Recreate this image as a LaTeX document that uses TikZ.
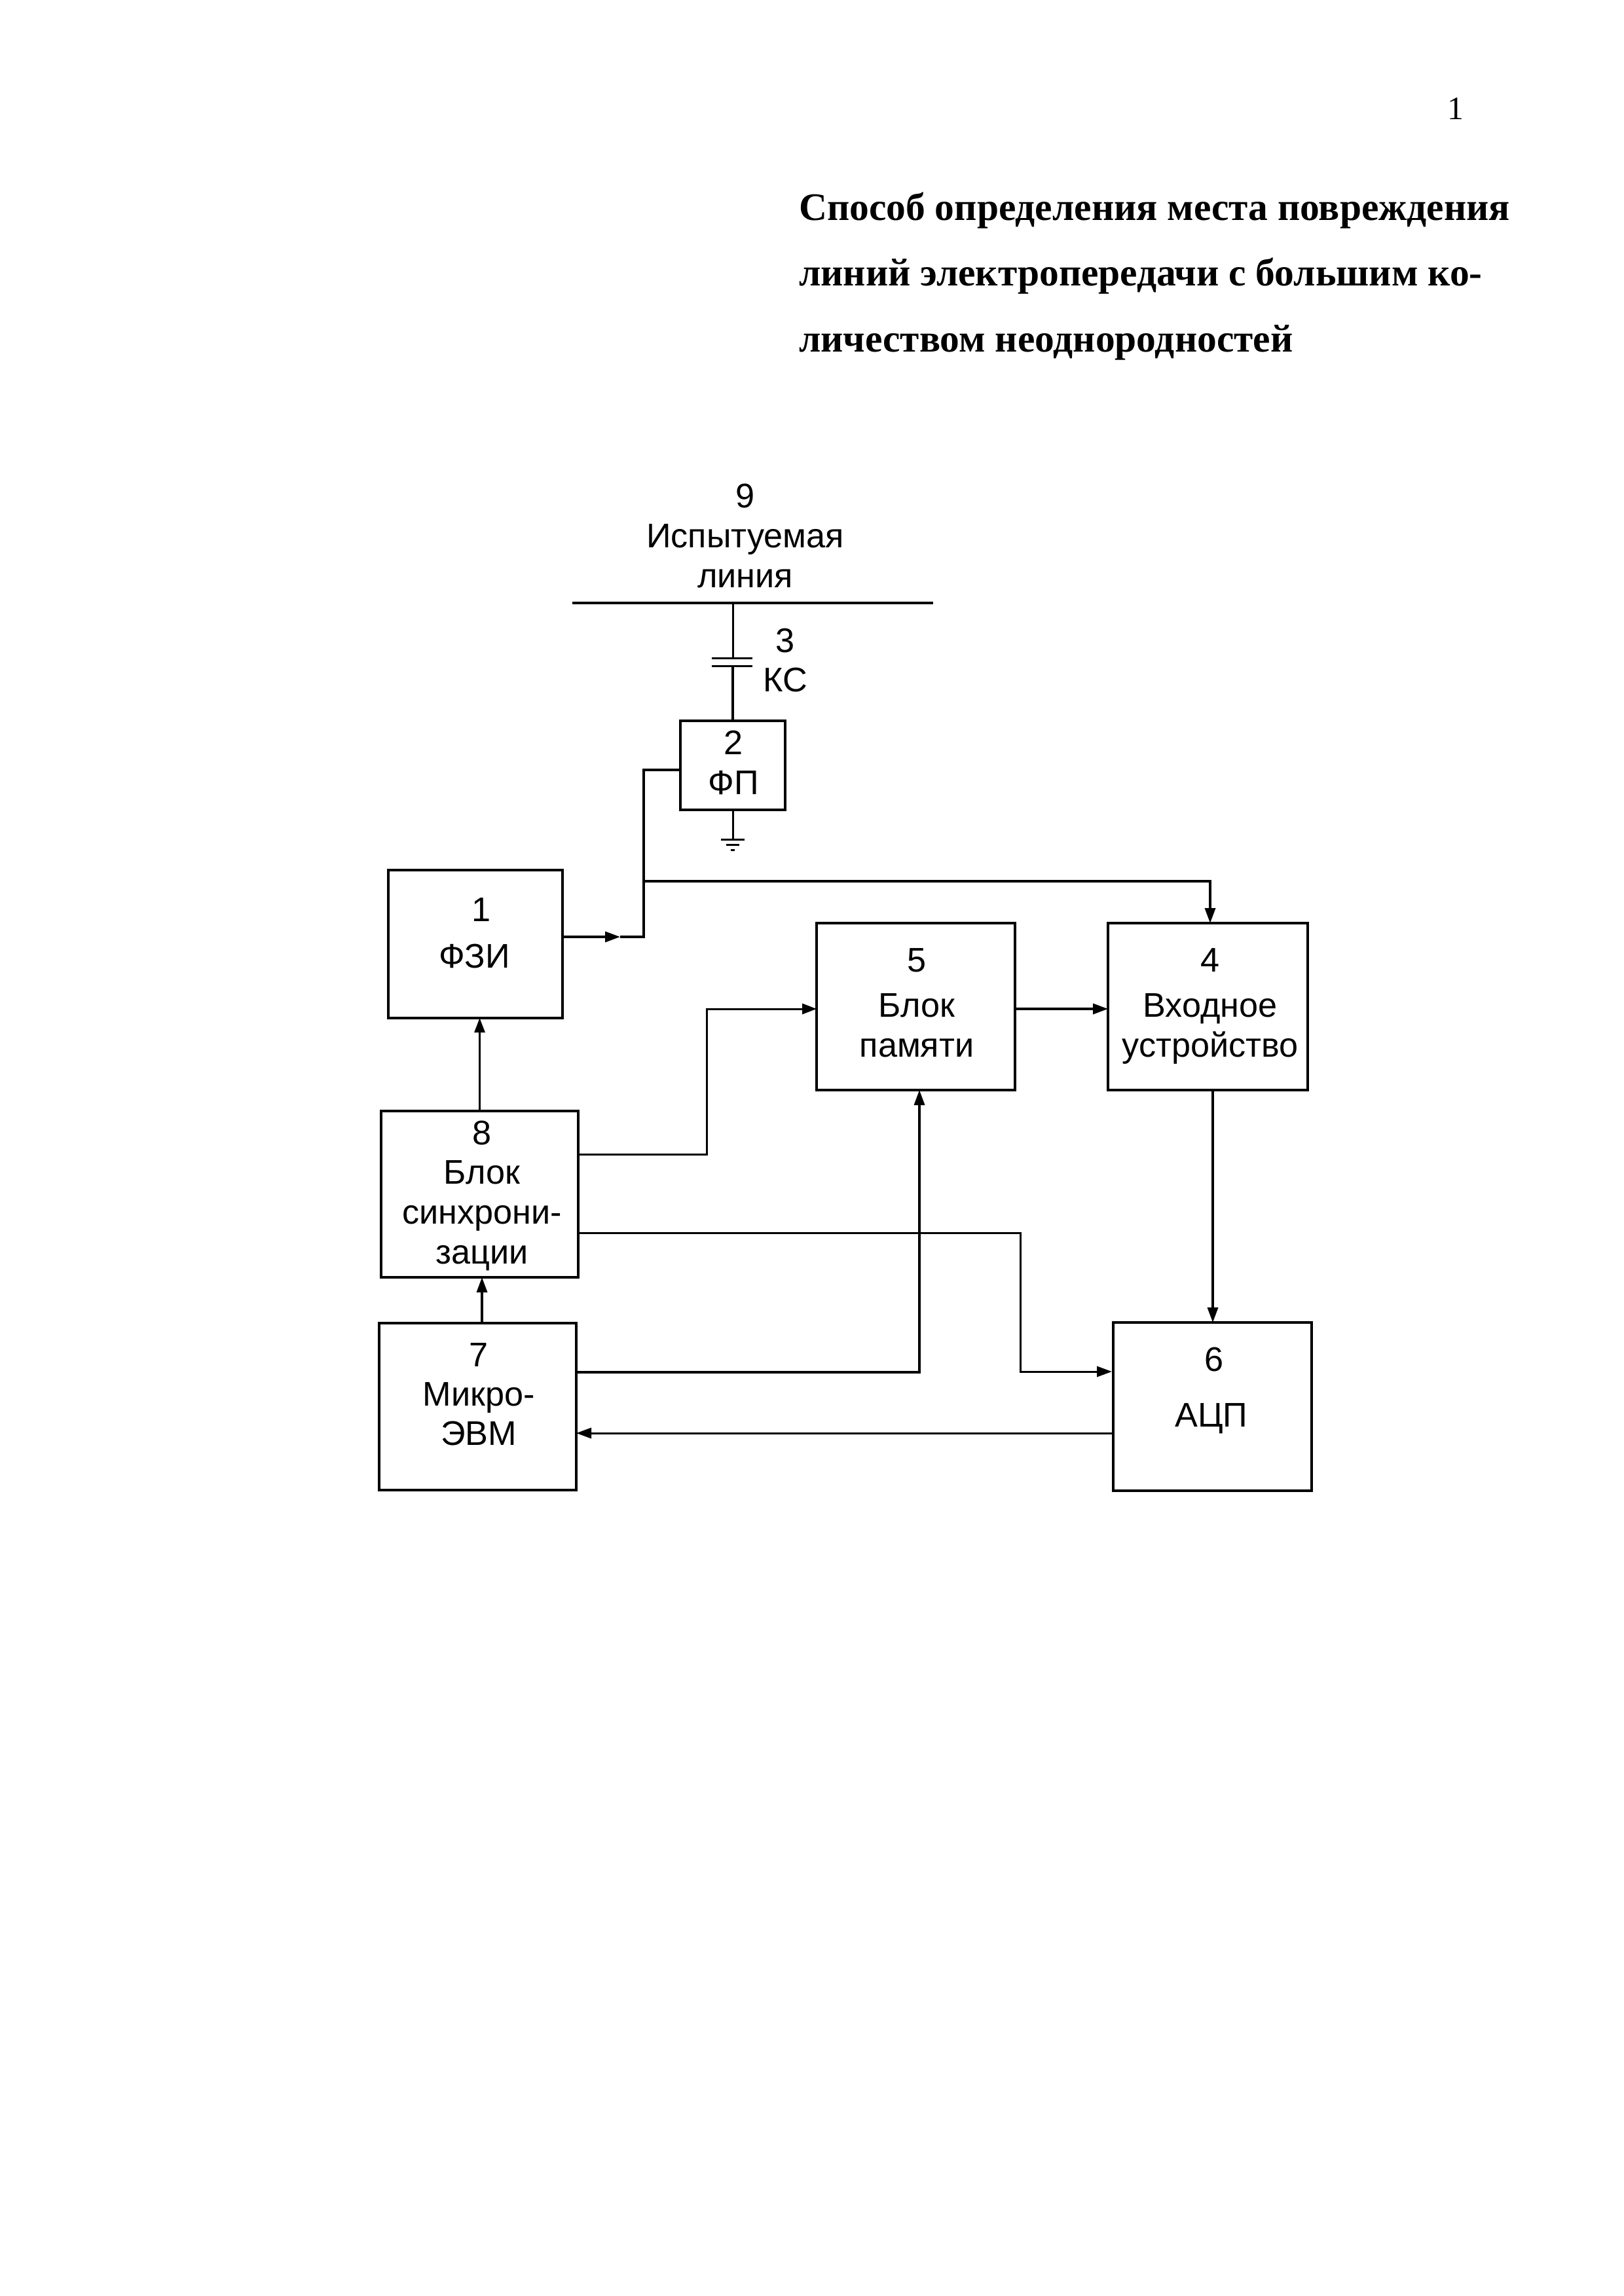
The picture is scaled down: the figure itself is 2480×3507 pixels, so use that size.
\documentclass[tikz,border=0pt]{standalone}
\usepackage{fontspec}
\setmainfont{Liberation Sans}
\newfontfamily\serifrm{Liberation Serif}
\usetikzlibrary{arrows.meta,calc}
\newcommand{\bl}{\vrule height42pt depth12pt width0pt}
\newcommand{\tl}{\vrule height60pt depth15pt width0pt}
\tikzset{
  x=1pt,y=-1pt,
  wire/.style={line width=3.4pt,line join=miter,line cap=butt,draw=black},
  thin wire/.style={wire,line width=3pt},
  arrowline/.style={wire,-{Triangle[length=23pt,width=16pt]}},
  midtip/.style={wire,-{Triangle[length=23pt,width=16pt]}},
  blockbox/.style={draw=black,line width=3.4pt,rectangle,inner sep=0pt,outer sep=0pt},
  tblock/.style={anchor=north,inner sep=0pt,outer sep=0pt,align=center,font=\fontsize{52.2}{61}\selectfont,text=black},
}
\begin{document}
\begin{tikzpicture}
\useasboundingbox (0,0) rectangle (2480,3507);
\fill[white] (0,0) rectangle (2480,3507);

% heading
\node[anchor=base,inner sep=0pt,font=\serifrm\fontsize{50}{60}\selectfont] (pageno) at (2223,182) {1};
\node[anchor=north west,inner sep=0pt,align=left,font=\serifrm\bfseries\fontsize{59.5}{100.5}\selectfont] (title) at (1220,276)
  {\tl Способ определения места повреждения\\ \tl линий электропередачи с большим ко-\\ \tl личеством неоднородностей};

% blocks
\node[blockbox,minimum width=266pt,minimum height=226pt] (n1) at (726,1442) {};
\node[blockbox,minimum width=160pt,minimum height=136pt] (n2) at (1119,1169) {};
\node[blockbox,minimum width=305pt,minimum height=255pt] (n4) at (1844.5,1537.5) {};
\node[blockbox,minimum width=303pt,minimum height=255pt] (n5) at (1398.5,1537.5) {};
\node[blockbox,minimum width=303pt,minimum height=257pt] (n6) at (1851.5,2148.5) {};
\node[blockbox,minimum width=301pt,minimum height=255pt] (n7) at (729.5,2148.5) {};
\node[blockbox,minimum width=301pt,minimum height=254pt] (n8) at (732.5,1824) {};

% block texts
\node[tblock] (t1) at (724.5,1365) {\bl\hspace*{22pt}1\\[10pt]\bl ФЗИ};
\node[tblock] (t2) at (1120,1110) {\bl 2\\\bl ФП};
\node[tblock] (t3) at (1199,954) {\bl 3\\[-1pt]\bl КС};
\node[tblock] (t4) at (1848,1442) {\bl 4\\[8pt]\bl Входное\\\bl устройство};
\node[tblock] (t5) at (1400,1442) {\bl 5\\[8pt]\bl Блок\\\bl памяти};
\node[tblock] (t6) at (1850,2052) {\bl\hspace*{8pt}6\\[24pt]\bl АЦП};
\node[tblock] (t7) at (731,2045) {\bl 7\\[-1pt]\bl Микро-\\[-1pt]\bl ЭВМ};
\node[tblock] (t8) at (736,1706) {\bl 8\\[-1pt]\bl Блок\\\bl синхрони-\\\bl зации};
\node[tblock] (t9) at (1138,733) {\bl 9\\\bl Испытуемая\\\bl линия};

% line under test
\coordinate (busL) at (874,921);
\coordinate (busR) at (1425,921);
\draw[wire] (busL) -- (busR);

% coupling capacitor
\coordinate (capAL) at (1087,1005);
\coordinate (capAR) at (1149,1005);
\coordinate (capBL) at (1087,1017);
\coordinate (capBR) at (1149,1017);
\draw[thin wire] (capAL) -- (capAR);
\draw[thin wire] (capBL) -- (capBR);
\draw[thin wire] (n2.north |- busL) -- (n2.north |- capAL);
\draw[wire] (n2.north |- capBL) -- (n2.north);

% earth
\coordinate (gAL) at (1101,1282);
\coordinate (gAR) at (1137,1282);
\coordinate (gBL) at (1109,1290);
\coordinate (gBR) at (1129,1290);
\coordinate (gCL) at (1116,1298);
\coordinate (gCR) at (1122,1298);
\draw[thin wire] (n2.south) -- (n2.south |- gAL);
\draw[thin wire] (gAL) -- (gAR);
\draw[thin wire] (gBL) -- (gBR);
\draw[thin wire] (gCL) -- (gCR);

% generator to filter and input device
\coordinate (jA) at (983,1176);
\coordinate (jB) at (983,1346);
\coordinate (jC) at (983,1431);
\coordinate (tipA) at (947,1431);
\coordinate (k4) at (1848,1346);
\draw[midtip] (n1.east |- jC) -- (tipA);
\draw[wire] (tipA) -- (jC) -- (jA) -- (jA -| n2.west);
\draw[arrowline] (jB) -- (k4) -- (k4 |- n4.north);

% memory and input device
\coordinate (m54) at (1600,1541);
\draw[arrowline] (n5.east |- m54) -- (n4.west |- m54);

% synchroniser
\draw[thin wire,-{Triangle[length=22pt,width=16pt]}] (n8.north) -- (n8.north |- n1.south);
\coordinate (c83) at (1079,1763);
\coordinate (c85) at (1079,1541);
\draw[thin wire,-{Triangle[length=22pt,width=16pt]}] (c83 -| n8.east) -- (c83) -- (c85) -- (n5.west |- c85);
\coordinate (c86) at (1558,1883);
\coordinate (d86) at (1558,2095);
\draw[thin wire,-{Triangle[length=23pt,width=16pt]}] (c86 -| n8.east) -- (c86) -- (d86) -- ([xshift=-2pt]n6.west |- d86);

% computer
\coordinate (k78) at (736,1990);
\draw[arrowline] (k78 |- n7.north) -- (k78 |- n8.south);
\coordinate (c75) at (1404,2096);
\draw[arrowline] (c75 -| n7.east) -- (c75) -- (c75 |- n5.south);

% input device to ADC, ADC to computer
\coordinate (k46) at (1852,1800);
\draw[arrowline] (k46 |- n4.south) -- (k46 |- n6.north);
\coordinate (c67) at (1300,2189);
\draw[thin wire,-{Triangle[length=23pt,width=16pt]}] (n6.west |- c67) -- (n7.east |- c67);
\end{tikzpicture}
\end{document}
